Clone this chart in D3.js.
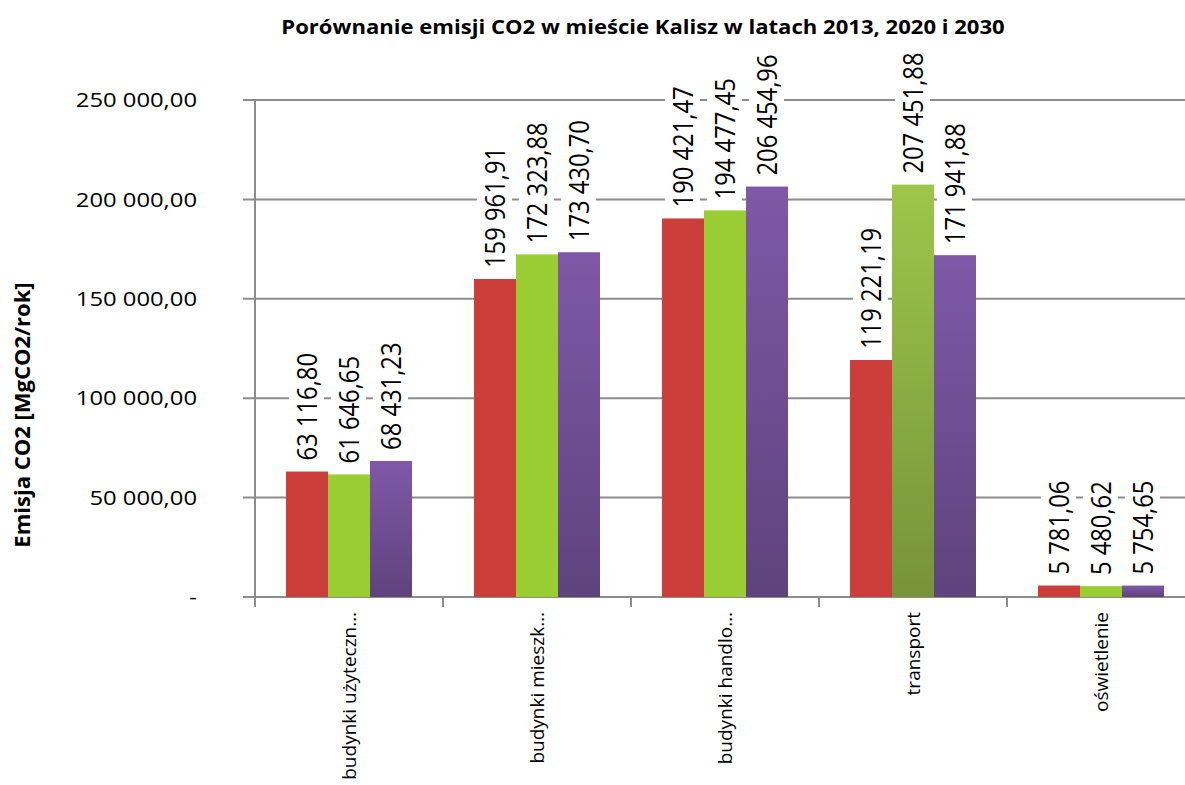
<!DOCTYPE html>
<html>
<head>
<meta charset="utf-8">
<script src="https://cdn.jsdelivr.net/npm/d3@7"></script>
<style>
  body { margin: 0; background: #fff; }
  svg { display: block; font-family: "Open Sans", sans-serif; }
</style>
</head>
<body>
<div id="chart"></div>
<script>
const width = 1185;
const height = 785;

// data
const categories = ['budynki użyteczn…', 'budynki mieszk…', 'budynki handlo…', 'transport', 'oświetlenie'];
const seriesNames = ['2013', '2020', '2030'];
const values2013 = [63116.80, 159961.91, 190421.47, 119221.19, 5781.06];
const values2020 = [61646.65, 172323.88, 194477.45, 207451.88, 5480.62];
const values2030 = [68431.23, 173430.70, 206454.96, 171941.88, 5754.65];
const yTicks = [0, 50000, 100000, 150000, 200000, 250000];

const sx = 1.15; // the source text is a bit wide

const pl = d3.formatLocale({decimal: ',', thousands: '\u00a0', grouping: [3]});
const fmt = pl.format(',.2f');
const tickFmt = v => v === 0 ? '-' : fmt(v);

let svg = d3.select('#chart')
    .append('svg')
    .attr('width', width)
    .attr('height', height);

let defs = svg.append('defs');
function grad(id, top, bottom) {
    let g = defs.append('linearGradient').attr('id', id)
        .attr('x1', 0).attr('y1', 0).attr('x2', 0).attr('y2', 1);
    g.append('stop').attr('offset', '0%').attr('stop-color', top);
    g.append('stop').attr('offset', '100%').attr('stop-color', bottom);
}
grad('gPurple', '#7f58a7', '#5e437d');
grad('gGreen', '#9dc64a', '#76933a');

let x = d3.scaleBand().domain(categories).range([255, 1195]);
let x1 = d3.scaleBand().domain(seriesNames).range([31, 157]);
let y = d3.scaleLinear().domain([0, 250000]).range([597, 100]);

// gridlines
svg.append('g').selectAll('line').data(yTicks).enter().append('line')
    .attr('x1', 243).attr('x2', width)
    .attr('y1', d => y(d)).attr('y2', d => y(d))
    .attr('stroke', '#8c8c8c').attr('stroke-width', 2);

// axis lines
svg.append('line').attr('x1', 255).attr('x2', 255).attr('y1', y(250000)).attr('y2', 607)
    .attr('stroke', '#8c8c8c').attr('stroke-width', 2);
svg.append('g').selectAll('line').data(categories.slice(1)).enter().append('line')
    .attr('x1', d => x(d)).attr('x2', d => x(d))
    .attr('y1', 597).attr('y2', 607)
    .attr('stroke', '#8c8c8c').attr('stroke-width', 2);

// y tick labels
svg.append('g').selectAll('g').data(yTicks).enter().append('g')
    .attr('transform', d => `translate(197, ${y(d)}) scale(${sx},1)`)
    .append('text')
    .attr('dy', '0.35em')
    .attr('text-anchor', 'end')
    .attr('font-size', 20.7)
    .attr('fill', '#000')
    .text(tickFmt);

// bars
let rows = categories.map((c, i) => ({
    cat: c,
    vals: [values2013[i], values2020[i], values2030[i]]
}));

function fillFor(s, cat) {
    if (s === '2013') return '#cc3e3a';
    if (s === '2020') return cat === 'transport' ? 'url(#gGreen)' : '#9acd32';
    return 'url(#gPurple)';
}

let groups = svg.append('g').selectAll('g').data(rows).enter().append('g')
    .attr('transform', d => `translate(${x(d.cat)}, 0)`);

groups.selectAll('rect').data(d => d.vals.map((v, j) => ({cat: d.cat, s: seriesNames[j], v: v})))
    .enter().append('rect')
    .attr('x', d => x1(d.s))
    .attr('width', x1.bandwidth())
    .attr('y', d => y(d.v))
    .attr('height', d => y(0) - y(d.v))
    .attr('fill', d => fillFor(d.s, d.cat));

// data labels with white boxes
let labs = groups.selectAll('g.lab').data(d => d.vals.map((v, j) => ({cat: d.cat, s: seriesNames[j], v: v})))
    .enter().append('g').attr('class', 'lab')
    .attr('transform', d => `translate(${x1(d.s) + x1.bandwidth() / 2}, ${y(d.v) - 11}) scale(${sx},1) rotate(-90)`);
labs.append('rect');
labs.append('text')
    .attr('dy', '0.35em')
    .attr('font-size', 23.8)
    .attr('fill', '#000')
    .text(d => fmt(d.v));
labs.each(function() {
    let g = d3.select(this);
    let b = g.select('text').node().getBBox();
    g.select('rect')
        .attr('x', b.x - 2).attr('y', b.y + 1)
        .attr('width', b.width + 4).attr('height', b.height - 2)
        .attr('fill', '#fff');
});

// category labels
svg.append('g').selectAll('g').data(categories).enter().append('g')
    .attr('transform', d => `translate(${x(d) + x.bandwidth() / 2}, 612) rotate(-90)`)
    .append('text')
    .attr('dy', '0.35em')
    .attr('text-anchor', 'end')
    .attr('font-size', 19)
    .attr('fill', '#000')
    .text(d => d);

// title
svg.append('g')
    .attr('transform', `translate(643, 34) scale(${sx},1)`)
    .append('text')
    .attr('text-anchor', 'middle')
    .attr('font-size', 19.2)
    .attr('font-weight', 'bold')
    .attr('fill', '#000')
    .text('Porównanie emisji CO2 w mieście Kalisz w latach 2013, 2020 i 2030');

// y axis title
svg.append('g')
    .attr('transform', `translate(22, 415) rotate(-90)`)
    .append('text')
    .attr('dy', '0.35em')
    .attr('text-anchor', 'middle')
    .attr('font-size', 22)
    .attr('font-weight', 'bold')
    .attr('fill', '#000')
    .text('Emisja CO2 [MgCO2/rok]');
</script>
</body>
</html>
